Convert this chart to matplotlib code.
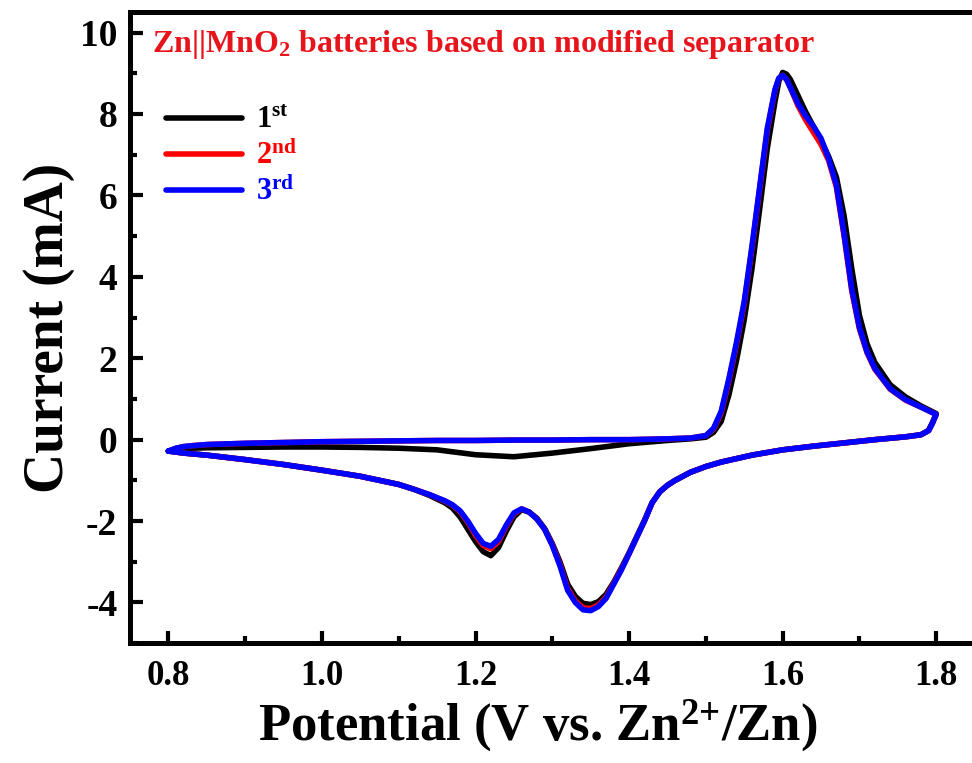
import matplotlib
matplotlib.use('Agg')
from matplotlib import pyplot as plt
from matplotlib.ticker import MultipleLocator

plt.rcParams['font.family'] = ['Liberation Serif', 'DejaVu Serif']
plt.rcParams['font.weight'] = 'bold'
plt.rcParams['mathtext.fontset'] = 'custom'
plt.rcParams['mathtext.rm'] = 'Liberation Serif:bold'
plt.rcParams['mathtext.it'] = 'Liberation Serif:bold'
plt.rcParams['mathtext.bf'] = 'Liberation Serif:bold'
plt.rcParams['axes.unicode_minus'] = False

# anodic scan (0.8 -> 1.8 V)
E_fwd = [0.80, 0.81, 0.82, 0.83, 0.85, 0.90, 0.95, 1.00, 1.05, 1.10, 1.15, 1.20, 1.25, 1.30, 1.35,
         1.40, 1.45, 1.48, 1.50, 1.51, 1.52, 1.53, 1.54, 1.55, 1.56, 1.57, 1.58, 1.59, 1.595,
         1.60, 1.605, 1.61, 1.62, 1.63, 1.64, 1.65, 1.66, 1.67, 1.68, 1.69, 1.70, 1.71, 1.72,
         1.74, 1.76, 1.78, 1.80]
# cathodic scan (1.8 -> 0.8 V)
E_rev = [1.80, 1.795, 1.79, 1.78, 1.76, 1.72, 1.68, 1.64, 1.60, 1.56, 1.52, 1.50, 1.48, 1.46,
         1.45, 1.44, 1.43, 1.42, 1.41, 1.40, 1.39, 1.38, 1.37, 1.36, 1.35, 1.34, 1.33, 1.32,
         1.31, 1.30, 1.29, 1.28, 1.27, 1.26, 1.25, 1.24, 1.23, 1.22, 1.21, 1.20, 1.19, 1.18,
         1.17, 1.16, 1.14, 1.12, 1.10, 1.05, 1.00, 0.95, 0.90, 0.85, 0.82, 0.80]

I1_fwd = [-0.28, -0.24, -0.22, -0.21, -0.20, -0.19, -0.18, -0.18, -0.19, -0.21, -0.25, -0.37, -0.42, -0.33,
          -0.22, -0.10, -0.02, 0.02, 0.06, 0.18, 0.45, 1.10, 1.95, 2.95, 4.20, 5.65, 7.15, 8.30, 8.80,
          9.02, 8.98, 8.85, 8.45, 8.05, 7.70, 7.35, 6.95, 6.45, 5.50, 4.20, 3.05, 2.35, 1.90,
          1.35, 1.05, 0.83, 0.64]
I2_fwd = [-0.28, -0.21, -0.17, -0.15, -0.12, -0.09, -0.07, -0.05, -0.04, -0.03, -0.02, -0.02, -0.01, -0.01,
          0.00, 0.00, 0.02, 0.04, 0.10, 0.26, 0.66, 1.45, 2.35, 3.35, 4.70, 6.15, 7.60, 8.58, 8.87,
          8.95, 8.85, 8.65, 8.20, 7.85, 7.55, 7.25, 6.85, 6.20, 5.00, 3.65, 2.72, 2.13, 1.73,
          1.24, 0.97, 0.80, 0.62]
I3_fwd = [-0.28, -0.21, -0.17, -0.15, -0.12, -0.09, -0.07, -0.05, -0.04, -0.03, -0.02, -0.02, -0.01, -0.01,
          0.00, 0.00, 0.02, 0.04, 0.10, 0.28, 0.70, 1.50, 2.40, 3.40, 4.75, 6.20, 7.65, 8.60, 8.88,
          8.95, 8.85, 8.65, 8.25, 7.95, 7.70, 7.40, 6.90, 6.25, 5.05, 3.70, 2.75, 2.15, 1.75,
          1.25, 0.98, 0.80, 0.62]

I1_rev = [0.64, 0.42, 0.23, 0.12, 0.07, 0.00, -0.08, -0.16, -0.25, -0.38, -0.55, -0.66, -0.80, -1.00,
          -1.12, -1.28, -1.55, -1.98, -2.38, -2.78, -3.15, -3.50, -3.80, -3.98, -4.05, -4.02, -3.85, -3.55,
          -3.00, -2.55, -2.18, -1.93, -1.78, -1.72, -1.90, -2.25, -2.65, -2.85, -2.75, -2.50, -2.20, -1.90,
          -1.68, -1.55, -1.37, -1.22, -1.10, -0.90, -0.75, -0.61, -0.49, -0.38, -0.33, -0.28]
I2_rev = [0.62, 0.40, 0.22, 0.12, 0.07, 0.00, -0.08, -0.16, -0.25, -0.38, -0.55, -0.66, -0.80, -1.00,
          -1.12, -1.28, -1.55, -2.00, -2.40, -2.80, -3.18, -3.53, -3.87, -4.06, -4.15, -4.13, -3.96, -3.66,
          -3.07, -2.58, -2.20, -1.95, -1.78, -1.70, -1.82, -2.13, -2.50, -2.68, -2.60, -2.35, -2.03, -1.77,
          -1.61, -1.51, -1.35, -1.22, -1.10, -0.90, -0.75, -0.61, -0.49, -0.38, -0.33, -0.28]
I3_rev = [0.62, 0.40, 0.22, 0.12, 0.07, 0.00, -0.08, -0.16, -0.25, -0.38, -0.55, -0.66, -0.80, -1.00,
          -1.12, -1.28, -1.55, -2.00, -2.40, -2.80, -3.20, -3.55, -3.90, -4.10, -4.20, -4.18, -4.00, -3.70,
          -3.10, -2.60, -2.20, -1.95, -1.78, -1.70, -1.80, -2.10, -2.45, -2.62, -2.55, -2.30, -2.00, -1.75,
          -1.60, -1.50, -1.35, -1.22, -1.10, -0.90, -0.75, -0.61, -0.49, -0.38, -0.33, -0.28]

labels = ['1$^{\\mathrm{st}}$', '2$^{\\mathrm{nd}}$', '3$^{\\mathrm{rd}}$']
colors = ['#000000', '#ff0000', '#0000ff']
cycles = [(I1_fwd, I1_rev), (I2_fwd, I2_rev), (I3_fwd, I3_rev)]

fig = plt.figure(figsize=(9.72, 7.63), dpi=100)
ax = fig.add_axes([0.1337, 0.157, 0.869, 0.827])

for (fwd, rev), c, lab in zip(cycles, colors, labels):
    ax.plot(E_fwd + E_rev, fwd + rev, color=c, lw=4, label=lab,
            solid_capstyle='round', solid_joinstyle='round')

ax.set_xlim(0.75, 1.85)
ax.set_ylim(-5, 10.5)
ax.xaxis.set_minor_locator(MultipleLocator(0.1))
ax.yaxis.set_minor_locator(MultipleLocator(1))
ax.set_xticks([0.8, 1.0, 1.2, 1.4, 1.6, 1.8])
ax.set_xticklabels(['0.8', '1.0', '1.2', '1.4', '1.6', '1.8'])
ax.set_yticks([-4, -2, 0, 2, 4, 6, 8, 10])
ax.set_yticklabels(['-4', '-2', '0', '2', '4', '6', '8', '10'])

ax.tick_params(which='both', direction='in', top=False, right=False, width=3)
ax.tick_params(which='major', length=9)
ax.tick_params(which='minor', length=5)
ax.tick_params(axis='x', labelsize=25, pad=12)
ax.tick_params(axis='y', labelsize=27, pad=9)
for s in ax.spines.values():
    s.set_linewidth(3.6)

ax.set_xlabel('Potential (V vs. Zn$^{\\text{2+}}$/Zn)', fontsize=38, fontweight='bold', labelpad=4)
ax.xaxis.set_label_coords(0.483, -0.085, transform=ax.transAxes)
ax.xaxis.label.set_va('top')
ax.set_ylabel('Current (mA)', fontsize=40, fontweight='bold', labelpad=4)

ax.text(0.026, 0.975, 'Zn||MnO$_2$ batteries based on modified separator', transform=ax.transAxes,
        color='#e8141c', fontsize=23, fontweight='bold', va='top', ha='left')

ax.legend(loc='upper left', bbox_to_anchor=(0.028, 0.87), frameon=False, fontsize=22,
          handlelength=2.5, handletextpad=0.45, labelspacing=0.2, labelcolor='linecolor',
          borderaxespad=0)

fig.savefig('out.png', dpi=100)
